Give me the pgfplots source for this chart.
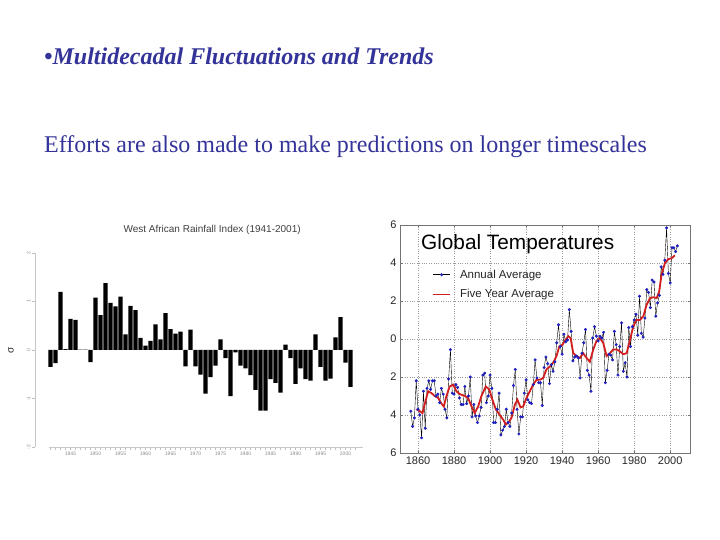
\documentclass[border=0pt]{standalone}
\usepackage{fontspec}
\setmainfont{Liberation Serif}
\newfontfamily\arial{Liberation Sans}
\usepackage{pgfplots}
\pgfplotsset{compat=1.18}
\usepackage{pgfplotstable}
\definecolor{slide}{RGB}{51,51,153}
\definecolor{annual}{RGB}{30,30,190}
\definecolor{five}{RGB}{210,30,30}

\pgfplotstableread{
year val
1941 -0.35
1942 -0.27
1943 1.20
1944 0.02
1945 0.64
1946 0.62
1947 0.01
1948 0.01
1949 -0.25
1950 1.08
1951 0.72
1952 1.38
1953 0.97
1954 0.90
1955 1.10
1956 0.32
1957 0.91
1958 0.82
1959 0.25
1960 0.09
1961 0.19
1962 0.53
1963 0.22
1964 0.76
1965 0.43
1966 0.34
1967 0.38
1968 -0.34
1969 0.42
1970 -0.34
1971 -0.51
1972 -0.90
1973 -0.56
1974 -0.32
1975 0.22
1976 -0.17
1977 -0.95
1978 -0.05
1979 -0.32
1980 -0.38
1981 -0.52
1982 -0.82
1983 -1.25
1984 -1.25
1985 -0.60
1986 -0.68
1987 -0.88
1988 0.11
1989 -0.17
1990 -0.70
1991 -0.38
1992 -0.60
1993 -0.63
1994 0.32
1995 -0.35
1996 -0.63
1997 -0.59
1998 0.26
1999 0.68
2000 -0.26
2001 -0.76
}\rain

\pgfplotstableread{
year val
1856 -3.8
1857 -4.6
1858 -4.15
1859 -2.2
1860 -3.7
1861 -4.0
1862 -5.2
1863 -2.75
1864 -4.7
1865 -2.6
1866 -2.2
1867 -2.65
1868 -2.2
1869 -2.2
1870 -3.0
1871 -2.9
1872 -3.35
1873 -2.6
1874 -2.9
1875 -3.7
1876 -4.15
1877 -2.1
1878 -0.56
1879 -2.85
1880 -2.9
1881 -2.4
1882 -2.55
1883 -3.1
1884 -3.45
1885 -3.45
1886 -2.5
1887 -3.4
1888 -3.0
1889 -2.0
1890 -4.1
1891 -3.45
1892 -4.05
1893 -4.4
1894 -4.05
1895 -3.6
1896 -1.9
1897 -1.8
1898 -3.35
1899 -3.0
1900 -1.9
1901 -2.6
1902 -4.4
1903 -4.4
1904 -3.7
1905 -2.85
1906 -5.05
1907 -4.8
1908 -4.6
1909 -3.7
1910 -4.4
1911 -4.6
1912 -3.9
1913 -2.45
1914 -1.6
1915 -3.7
1916 -5.0
1917 -4.1
1918 -4.1
1919 -2.85
1920 -2.15
1921 -3.2
1922 -3.35
1923 -3.4
1924 -2.4
1925 -1.1
1926 -2.05
1927 -2.3
1928 -2.3
1929 -3.5
1930 -1.5
1931 -0.95
1932 -1.3
1933 -2.35
1934 -1.35
1935 -1.7
1936 -1.2
1937 -0.2
1938 0.75
1939 -0.4
1940 -0.8
1941 0.25
1942 -0.15
1943 -0.05
1944 1.55
1945 0.4
1946 -1.15
1947 -0.95
1948 -0.9
1949 -1.0
1950 -2.05
1951 -0.75
1952 -0.2
1953 0.5
1954 -1.65
1955 -1.9
1956 -2.75
1957 0.05
1958 0.65
1959 0.15
1960 -0.1
1961 0.15
1962 0.05
1963 0.35
1964 -2.3
1965 -1.65
1966 -0.8
1967 -0.85
1968 -1.1
1969 0.4
1970 -0.3
1971 -1.9
1972 -0.4
1973 0.85
1974 -1.7
1975 -1.25
1976 -2.0
1977 0.6
1978 -0.4
1979 0.65
1980 1.0
1981 1.3
1982 0.2
1983 2.25
1984 0.3
1985 0.1
1986 1.1
1987 2.6
1988 2.45
1989 1.65
1990 3.1
1991 3.0
1992 1.2
1993 1.9
1994 2.3
1995 3.8
1996 3.4
1997 4.15
1998 5.85
1999 3.45
2000 2.95
2001 4.8
2002 4.8
2003 4.6
2004 4.9
}\annualT

\pgfplotstableread{
year val
1859.1 -3.7
1861.0 -3.8
1862.5 -3.9
1863.8 -3.4
1865.6 -2.75
1867.5 -2.85
1869.3 -3.0
1871.2 -3.1
1873.0 -3.4
1874.3 -3.55
1875.8 -3.0
1877.6 -2.5
1879.5 -2.4
1881.3 -2.75
1883.2 -2.9
1886.0 -3.0
1887.8 -3.1
1889.7 -3.55
1891.5 -3.9
1893.4 -3.55
1895.2 -3.0
1897.6 -2.5
1899.5 -2.65
1901.3 -3.2
1903.2 -3.7
1905.4 -4.0
1907.3 -4.25
1908.8 -4.5
1910.1 -4.4
1911.9 -4.15
1913.8 -3.45
1915.2 -3.2
1916.9 -3.6
1918.4 -3.55
1920.2 -3.1
1922.1 -2.75
1923.9 -2.4
1925.8 -2.15
1927.6 -2.15
1929.5 -2.05
1931.3 -1.6
1933.2 -1.45
1935.0 -1.25
1936.9 -0.9
1938.4 -0.4
1940.2 -0.3
1941.5 -0.1
1943.4 0.15
1944.7 0.05
1946.2 -0.75
1948.0 -0.9
1949.9 -1.0
1951.7 -0.75
1953.6 -1.0
1955.4 -1.2
1957.3 -0.55
1959.1 -0.1
1961.0 0.05
1962.8 -0.2
1964.7 -0.9
1966.5 -0.75
1968.4 -0.55
1970.2 -0.55
1972.1 -0.65
1973.9 -0.8
1975.8 -0.75
1977.3 -0.2
1979.1 0.5
1981.0 1.0
1983.2 1.0
1985.1 1.2
1986.9 1.8
1988.8 2.15
1990.6 2.2
1992.5 2.15
1993.9 2.5
1995.2 3.4
1997.1 4.0
1998.9 4.2
2000.8 4.25
2002.6 4.4
}\fiveT

\begin{document}
\begin{tikzpicture}
\useasboundingbox (0,0) rectangle (720pt,540pt);
\fill[white] (0,0) rectangle (720pt,540pt);

\node[anchor=base west, text=slide, font=\fontsize{24}{28}\selectfont\bfseries\itshape, inner sep=0pt] at (44pt,475pt) {\textbullet Multidecadal Fluctuations and Trends};
\node[anchor=base west, text=slide, font=\fontsize{24}{28}\selectfont, inner sep=0pt] at (44pt,387pt) {Efforts are also made to make predictions on longer timescales};

% ---------- West African Rainfall Index ----------
\begin{axis}[
  at={(35pt,93pt)}, anchor=south west, scale only axis,
  width=328pt, height=194pt,
  xmin=1937.9, xmax=2003.5, ymin=-2, ymax=2,
  axis x line*=bottom, axis y line*=left,
  axis line style={draw=black!22, line width=0.5pt, -},
  x axis line style={shorten <=14pt},
  xtick={1945,1950,...,2000}, minor xtick={1941,...,2002},
  ytick={-2,-1,0,1,2},
  tick align=outside, major tick length=3pt, minor tick length=3pt,
  every tick/.style={black!25, line width=0.4pt},
  tick label style={font=\arial\fontsize{5}{6}\selectfont, text=black!45},
  yticklabel style={rotate=90, anchor=south, inner sep=1.5pt},
  xticklabel style={inner sep=1.5pt},
  /pgf/number format/assume math mode=true,
  /pgf/number format/1000 sep={},
  title={West African Rainfall Index (1941-2001)},
  title style={font=\arial\fontsize{10}{11}\selectfont, text=black!75, at={(axis description cs:0.54,1)}, anchor=south, yshift=9pt},
  ylabel={σ},
  ylabel style={font=\arial\fontsize{10}{11}\selectfont, text=black!85, at={(axis description cs:-0.073,0.5)}, rotate=0, anchor=center},
]
\addplot[ybar, bar width=4.2pt, fill=black, draw=none] table[x=year,y=val] {\rain};
\end{axis}

% ---------- Global Temperatures ----------
\begin{axis}[
  at={(400pt,87pt)}, anchor=south west, scale only axis,
  width=290pt, height=228pt,
  xmin=1850, xmax=2011, ymin=-6, ymax=6,
  xtick={1860,1880,...,2000}, ytick={-6,-4,...,6},
  yticklabels={6,4,2,0,2,4,6},
  grid=major, grid style={dotted, black!40, line width=0.5pt},
  axis line style={black!55, line width=0.7pt},
  tick align=inside, major tick length=2.5pt,
  every tick/.style={black!55, line width=0.5pt},
  tick label style={font=\arial\fontsize{11}{13}\selectfont, text=black!85},
  /pgf/number format/assume math mode=true,
  /pgf/number format/1000 sep={},
  legend style={at={(rel axis cs:0.10,0.822)}, anchor=north west, draw=none, fill=none,
    font=\arial\fontsize{11.5}{13}\selectfont, row sep=6pt, text=black!85,
    /tikz/every odd column/.append style={column sep=7pt}},
  legend cell align=left,
  legend image code/.code={\draw[mark repeat=2,mark phase=2,#1] plot coordinates {(0pt,0pt) (8.5pt,0pt) (17pt,0pt)};},
]
\addplot[black, line width=0.4pt, mark=*, mark size=1.3pt, mark options={fill=annual, draw=annual}] table[x=year,y=val] {\annualT};
\addplot[five, line width=1.8pt] table[x=year,y=val] {\fiveT};
\legend{Annual Average, Five Year Average}
\node[anchor=west, font=\arial\fontsize{20.8}{24}\selectfont, inner sep=0pt] at (rel axis cs:0.072,0.917) {Global Temperatures};
\end{axis}
\end{tikzpicture}
\end{document}
